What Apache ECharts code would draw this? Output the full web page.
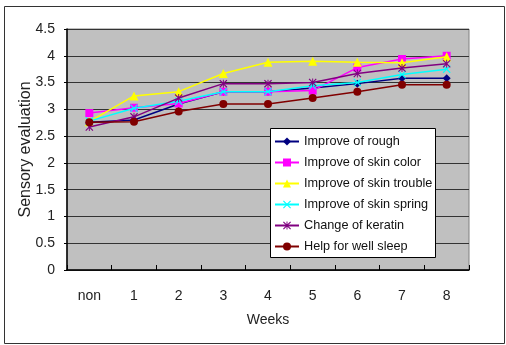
<!DOCTYPE html>
<html>
<head>
<meta charset="utf-8">
<script src="https://cdn.jsdelivr.net/npm/echarts@6/dist/echarts.min.js"></script>
<style>html,body{margin:0;padding:0;background:#fff}#c{width:506px;height:345px}</style>
</head>
<body>
<div id="c"></div>
<script>
var categories = ['non','1','2','3','4','5','6','7','8'];
var rough   = [2.76, 2.80, 3.10, 3.33, 3.33, 3.40, 3.48, 3.58, 3.58];
var skinColor = [2.93, 3.03, 3.11, 3.33, 3.33, 3.35, 3.78, 3.94, 4.00];
var skinTrouble = [2.77, 3.25, 3.33, 3.67, 3.88, 3.90, 3.88, 3.87, 3.98];
var skinSpring = [2.78, 3.02, 3.15, 3.33, 3.33, 3.44, 3.50, 3.65, 3.75];
var keratin = [2.67, 2.86, 3.21, 3.48, 3.48, 3.50, 3.67, 3.77, 3.85];
var sleep   = [2.76, 2.77, 2.96, 3.10, 3.10, 3.21, 3.33, 3.46, 3.46];
var seriesNames = ['Improve of rough','Improve of skin color','Improve of skin trouble','Improve of skin spring','Change of keratin','Help for well sleep'];
var yTicks = ['0','0.5','1','1.5','2','2.5','3','3.5','4','4.5'];

var FONT = 'Liberation Sans, Arial, sans-serif';
var xPath = 'path://M0,1L1,0L5,4L9,0L10,1L6,5L10,9L9,10L5,6L1,10L0,9L4,5Z';
var starPath = 'path://M0,1L1,0L4.4,3.4L4.4,0L5.6,0L5.6,3.4L9,0L10,1L6,5L10,9L9,10L5.6,6.6L5.6,10L4.4,10L4.4,6.6L1,10L0,9L4,5Z';

var defs = [
  {data: rough, color: '#000080', symbol: 'diamond', size: 8},
  {data: skinColor, color: '#ff00ff', symbol: 'rect', size: 8},
  {data: skinTrouble, color: '#ffff00', symbol: 'triangle', size: 9},
  {data: skinSpring, color: '#00ffff', symbol: xPath, size: 8},
  {data: keratin, color: '#800080', symbol: starPath, size: 8},
  {data: sleep, color: '#800000', symbol: 'circle', size: 8}
];

var series = defs.map(function(d, i){
  return {
    name: seriesNames[i], type: 'line', data: d.data,
    symbol: d.symbol, symbolSize: d.size, showSymbol: true,
    itemStyle: {color: d.color},
    lineStyle: {color: d.color, width: 1.5},
    z: 2 + i * 0.01
  };
});

var chart = echarts.init(document.getElementById('c'), null, {renderer: 'canvas'});
chart.setOption({
  animation: false,
  backgroundColor: '#ffffff',
  textStyle: {fontFamily: FONT},
  grid: {left: 67, right: 37, top: 29, bottom: 75, show: true, backgroundColor: '#c0c0c0', borderColor: '#808080', borderWidth: 1},
  xAxis: {
    type: 'category', data: categories, boundaryGap: true,
    name: 'Weeks', nameLocation: 'middle', nameGap: 43,
    nameTextStyle: {fontSize: 14, color: '#222', fontFamily: FONT},
    axisLine: {lineStyle: {color: '#000', width: 1.5}},
    axisTick: {show: true, inside: true, length: 5, lineStyle: {color: '#000'}},
    axisLabel: {fontSize: 14, color: '#222', margin: 19, fontFamily: FONT},
    splitLine: {show: false}
  },
  yAxis: {
    type: 'value', min: 0, max: 4.5, interval: 0.5,
    name: 'Sensory evaluation', nameLocation: 'middle', nameGap: 33, nameRotate: 90,
    nameMoveOverlap: false,
    nameTextStyle: {fontSize: 16, color: '#222', fontFamily: FONT},
    axisLine: {show: true, lineStyle: {color: '#000', width: 1.5}},
    axisTick: {show: true, length: 3, lineStyle: {color: '#000'}},
    axisLabel: {fontSize: 14, color: '#222', margin: 12, fontFamily: FONT,
      formatter: function(v){ var s = yTicks[Math.round(v / 0.5)]; return s === undefined ? '' : s; }},
    splitLine: {show: true, lineStyle: {color: '#333', width: 1}}
  },
  legend: {
    orient: 'vertical', left: 274, top: 135, padding: 0,
    itemWidth: 24, itemHeight: 10, itemGap: 8,
    textStyle: {fontSize: 12.7, color: '#111', fontFamily: FONT},
    data: seriesNames, z: 5
  },
  graphic: [
    {type: 'rect', z: 3, shape: {x: 270.5, y: 128.5, width: 165, height: 129},
     style: {fill: '#ffffff', stroke: '#000', lineWidth: 1}},
    {type: 'rect', z: 0, silent: true, shape: {x: 4.5, y: 6.5, width: 500, height: 337},
     style: {fill: 'none', stroke: '#333', lineWidth: 1}}
  ],
  series: series
});
</script>
</body>
</html>
